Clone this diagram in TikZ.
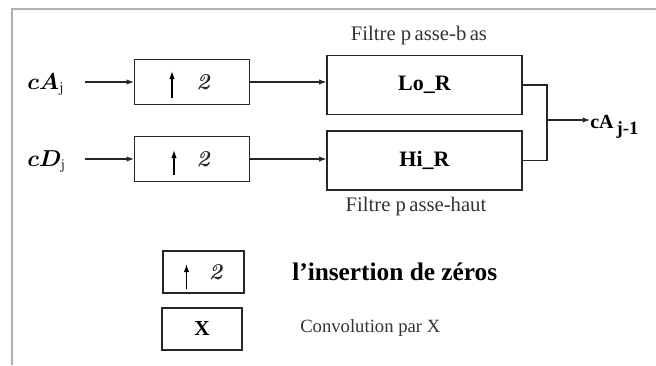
\documentclass[tikz,border=0pt]{standalone}
\usepackage{fontspec}
\usepackage{amsmath,bm}
\usetikzlibrary{arrows.meta,calc}
\newfontfamily\tms{Liberation Serif}
\begin{document}
\begin{tikzpicture}[x=0.75pt,y=-0.75pt,
  box/.style={draw=black!85,line width=1.1pt,inner sep=0pt},
  upbox/.style={box,minimum width=86pt,minimum height=33.5pt},
  filt/.style={box,minimum width=146pt,minimum height=44.5pt,
    font=\tms\fontsize{16.5}{18}\selectfont\bfseries},
  link/.style={line width=0.8pt,black!85,-{Latex[length=5.5pt,width=4pt]}},
  wire/.style={line width=0.8pt,black!85},
  uparr/.style={line width=0.9pt,black,-{Latex[length=6pt,width=4pt]}},
  filtcaption/.style={font=\tms\fontsize{15.5}{17}\selectfont,text=black!80},
  lab/.style={font=\fontsize{16}{18}\selectfont,inner sep=0pt},
  two/.style={font=\fontsize{17}{19}\selectfont\bfseries\itshape,inner sep=0pt,text=black!85}]
\useasboundingbox (0,0) rectangle (656,365);
% outer frame (top and left sides)
\draw[line width=1.6pt,black!30] (12,365) -- (12,9) -- (656,9);

% inputs
\node[lab,anchor=base west] (inA) at (27,89) {$\bm{cA}_{\mathrm{j}}$};
\node[lab,anchor=base west] (inD) at (27,166) {$\bm{cD}_{\mathrm{j}}$};
\coordinate (sA) at (85,82);
\coordinate (sD) at (85,159);

% upsampling boxes
\node[upbox] (up1) at (192,82) {};
\node[upbox] (up2) at (192,159) {};
\node[two] (t1) at ($(up1.center)+(11,0)$) {2};
\node[two] (t2) at ($(up2.center)+(11,0)$) {2};
\draw[uparr] ($(up1.center)+(-20,16)$) -- ($(up1.center)+(-20,-11)$);
\draw[uparr] ($(up2.center)+(-18,16)$) -- ($(up2.center)+(-18,-9)$);

% reconstruction filters
\node[filt] (lo) at (424.5,85) {Lo\_R};
\node[filt] (hi) at (424.5,160.5) {Hi\_R};
\node[filtcaption] (capLo) at (419,36) {Filtre p\,asse-b\,as};
\node[filtcaption] (capHi) at (416,207) {Filtre p\,asse-haut};

% connections
\draw[link] (sA) -- (up1.west);
\draw[link] (sD) -- (up2.west);
\draw[link] (up1.east) -- (lo.west |- up1.east);
\draw[link] (up2.east) -- (hi.west |- up2.east);
\coordinate (m) at (547,120);
\draw[wire] (lo.east) -| (m) |- (hi.east);
\node[font=\tms\fontsize{15}{17}\selectfont\bfseries,anchor=base west,inner sep=0pt]
  (out) at (590,128) {cA\raisebox{-5pt}{\fontsize{14}{16}\selectfont\,j-1}};
\draw[link] (m) -- (out.west |- m);

% legend
\node[box,minimum width=60.5pt,minimum height=31.5pt] (leg1) at (203.5,272) {};
\node[two] (t3) at ($(leg1.center)+(12,0)$) {2};
\draw[uparr] ($(leg1.center)+(-17,17)$) -- ($(leg1.center)+(-17,-8)$);
\node[box,minimum width=60pt,minimum height=31.5pt,
  font=\tms\fontsize{16}{18}\selectfont\bfseries] (leg2) at (202,329) {X};
\node[font=\tms\fontsize{19}{21}\selectfont\bfseries,anchor=west,inner sep=0pt]
  (d1) at (292,272) {l’insertion de zéros};
\node[font=\tms\fontsize{14}{16}\selectfont,anchor=west,inner sep=0pt,text=black!80]
  (d2) at (300,328) {Convolution par X};
\end{tikzpicture}
\end{document}
